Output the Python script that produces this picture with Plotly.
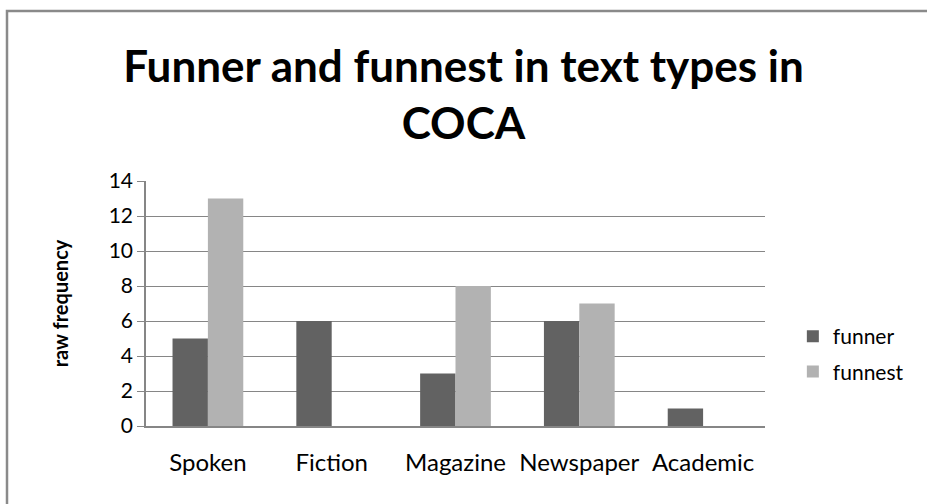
import plotly.graph_objects as go

# Raw frequency of "funner" / "funnest" across COCA text types
categories = ["Spoken", "Fiction", "Magazine", "Newspaper", "Academic"]
funner = [5, 6, 3, 6, 1]
funnest = [13, 0, 8, 7, 0]
y_ticks = [0, 2, 4, 6, 8, 10, 12, 14]

W, H = 927, 504
L, R, T, B = 146, 162, 181, 78
FONT = "Lato"

fig = go.Figure()
fig.add_trace(go.Bar(name="funner", x=categories, y=funner,
                     marker=dict(color="#626262", line=dict(width=0)),
                     legendgroup="a"))
fig.add_trace(go.Bar(name="funnest", x=categories, y=funnest,
                     marker=dict(color="#B2B2B2", line=dict(width=0)),
                     legendgroup="b"))

pw, ph = W - L - R, H - T - B


def px_x(x):
    return (x - L) / pw


def px_y(y):
    return (H - B - y) / ph


# outer chart frame (open towards the right and bottom edges)
fig.add_shape(type="rect", xref="paper", yref="paper",
              x0=px_x(7), x1=px_x(940), y0=px_y(11), y1=px_y(520),
              line=dict(color="#8A8A8A", width=2.5), layer="below")

fig.update_layout(
    width=W, height=H,
    margin=dict(l=L, r=R, t=T, b=B),
    paper_bgcolor="white", plot_bgcolor="white",
    barmode="group", bargap=1.5 / 3.5, bargroupgap=0,
    font=dict(family=FONT, color="black", size=22),
    title=dict(text="<b>Funner and funnest in text types in<br>COCA</b>",
               x=0.5, xref="container", xanchor="center",
               y=1 - 82 / H, yref="container", yanchor="middle",
               font=dict(family=FONT, size=44, color="black")),
    legend=dict(x=1.045, xanchor="left", y=px_y(354), yanchor="middle",
                font=dict(family=FONT, size=21), tracegroupgap=5,
                bgcolor="rgba(0,0,0,0)"),
    xaxis=dict(showline=True, linecolor="#868686", linewidth=1.5,
               ticks="", showgrid=False, ticklabelstandoff=14,
               tickfont=dict(size=24)),
    yaxis=dict(range=[0, 14], tickvals=y_ticks, showgrid=True,
               gridcolor="#868686", gridwidth=1.2, zeroline=False,
               showline=True, linecolor="#868686", linewidth=1.5,
               ticks="outside", ticklen=7, tickcolor="#868686",
               tickfont=dict(size=21),
               title=dict(text="<b>raw frequency</b>", standoff=35,
                          font=dict(size=20))),
)

fig.write_html("out.html")
